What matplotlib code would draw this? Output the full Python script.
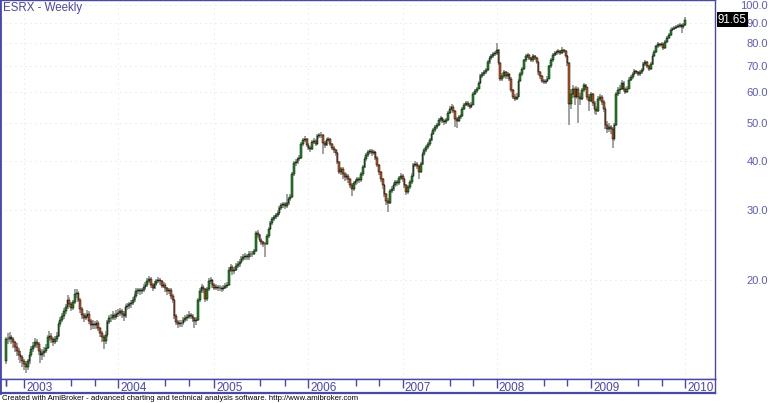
import matplotlib
matplotlib.use("Agg")
import matplotlib.pyplot as plt
import matplotlib.transforms as mtransforms
from matplotlib.ticker import NullLocator
import numpy as np
import pandas as pd

plt.rcParams['font.family'] = ['Liberation Sans', 'DejaVu Sans']

ticker = "ESRX - Weekly"
footer = ("Created with AmiBroker - advanced charting and technical analysis "
          "software. http://www.amibroker.com")
last_week = "2010-01-01"
first_open = 12.4

# weekly closes (Oct 2002 .. Dec 2009)
closes = [
    14.1, 14.1, 14.3, 14.1, 13.9, 13.5, 13.2, 12.9, 12.7, 12.4,
    12.2, 12.0, 12.4, 12.9, 13.3, 13.6, 13.9, 13.7, 13.2, 12.9,
    13.0, 13.2, 13.4, 14.3, 14.4, 14.1, 13.9, 14.1, 14.4, 15.4,
    15.8, 16.2, 16.6, 17.0, 17.8, 17.3, 16.9, 17.5, 18.4, 18.5,
    17.8, 16.8, 16.3, 16.0, 16.2, 16.4, 15.7, 15.3, 15.4, 15.3,
    15.5, 15.1, 14.6, 14.3, 14.0, 14.5, 15.6, 16.0, 16.0, 16.3,
    16.1, 16.4, 16.5, 16.6, 16.4, 16.2, 17.0, 17.1, 17.3, 17.4,
    17.8, 18.2, 18.7, 18.8, 18.7, 18.8, 19.2, 19.4, 19.9, 20.1,
    19.4, 19.1, 19.5, 19.9, 20.0, 19.8, 19.3, 19.4, 19.0, 18.7,
    18.8, 18.2, 17.8, 16.2, 15.6, 15.4, 15.5, 15.5, 15.8, 16.0,
    16.1, 16.3, 16.2, 16.0, 15.7, 15.8, 17.8, 18.7, 19.2, 18.9,
    17.9, 18.9, 19.9, 20.0, 19.4, 19.1, 19.2, 19.0, 19.1, 18.9,
    19.1, 19.3, 19.4, 21.2, 21.6, 21.0, 21.2, 21.7, 21.9, 22.2,
    22.6, 22.8, 23.0, 22.8, 23.3, 23.2, 23.3, 23.6, 26.3, 26.0,
    25.3, 24.9, 24.6, 24.7, 25.8, 26.9, 27.8, 28.5, 28.8, 29.2,
    29.5, 30.4, 30.9, 31.1, 30.8, 31.3, 32.0, 32.4, 37.1, 39.6,
    39.9, 40.5, 40.9, 44.3, 45.4, 45.6, 44.0, 43.3, 43.0, 44.8,
    45.1, 44.3, 46.4, 46.7, 46.7, 44.6, 44.0, 45.4, 45.6, 44.3,
    43.3, 42.7, 42.0, 39.9, 37.6, 38.2, 37.1, 36.4, 36.8, 36.0,
    34.8, 34.0, 35.2, 35.6, 36.0, 35.8, 37.1, 38.7, 40.5, 41.5,
    42.2, 42.4, 42.0, 42.2, 40.9, 39.1, 37.6, 36.0, 34.8, 33.0,
    31.8, 31.4, 33.6, 34.0, 34.8, 35.4, 35.2, 36.2, 36.8, 36.0,
    34.8, 33.4, 34.4, 35.4, 36.8, 39.1, 39.4, 38.9, 37.6, 39.4,
    41.7, 42.7, 43.5, 44.3, 45.4, 47.0, 48.1, 49.0, 49.5, 51.0,
    51.6, 50.8, 50.3, 51.0, 53.2, 54.5, 55.1, 53.8, 51.3, 50.8,
    51.9, 52.2, 54.5, 55.8, 56.4, 55.8, 55.1, 55.8, 59.5, 60.4,
    61.3, 63.5, 65.9, 66.7, 67.4, 68.2, 71.5, 73.2, 74.1, 75.0,
    75.4, 76.8, 71.1, 65.0, 65.9, 67.4, 65.9, 66.7, 65.0, 60.6,
    58.5, 57.8, 58.5, 64.2, 66.7, 68.6, 72.3, 74.1, 74.5, 73.2,
    72.3, 74.1, 73.2, 71.5, 67.4, 65.9, 64.2, 63.8, 64.2, 65.0,
    69.8, 72.3, 74.5, 75.4, 75.9, 76.3, 75.4, 76.8, 76.3, 74.1,
    71.1, 56.1, 59.5, 61.3, 58.5, 61.3, 58.5, 57.8, 60.6, 62.4,
    61.7, 58.5, 57.1, 59.2, 56.4, 54.5, 53.8, 57.8, 58.5, 56.8,
    54.5, 49.5, 48.4, 49.0, 48.4, 45.6, 49.5, 59.5, 60.6, 61.3,
    63.5, 61.3, 60.1, 61.3, 64.6, 65.5, 66.7, 67.8, 67.4, 66.7,
    67.4, 68.2, 70.7, 71.5, 70.0, 68.6, 70.7, 74.1, 75.9, 78.5,
    79.5, 79.1, 79.5, 77.7, 80.5, 82.4, 83.9, 86.4, 86.9, 87.4,
    87.9, 88.4, 89.0, 87.9, 89.0, 91.65,
]

highs = [
    14.3, 14.6, 14.7, 14.5, 14.3, 14.0, 13.8, 13.4, 13.2, 12.9,
    12.6, 12.4, 12.6, 13.1, 13.6, 13.9, 14.2, 14.1, 13.9, 13.4,
    13.3, 13.5, 13.7, 14.5, 14.8, 14.6, 14.3, 14.4, 14.7, 15.6,
    16.1, 16.5, 16.9, 17.3, 18.3, 18.1, 17.5, 17.8, 18.9, 18.9,
    18.7, 18.0, 17.0, 16.5, 16.5, 16.7, 16.6, 15.9, 15.8, 15.7,
    15.8, 15.7, 15.2, 14.8, 14.5, 14.8, 15.8, 16.3, 16.4, 16.6,
    16.5, 16.7, 16.8, 16.9, 16.8, 16.6, 17.3, 17.4, 17.6, 17.8,
    18.1, 18.5, 19.0, 19.1, 19.1, 19.1, 19.5, 19.7, 20.2, 20.4,
    20.3, 19.6, 19.8, 20.1, 20.3, 20.2, 20.0, 19.7, 19.6, 19.2,
    19.1, 19.0, 18.4, 17.9, 16.4, 15.8, 15.8, 15.8, 16.1, 16.3,
    16.4, 16.6, 16.5, 16.4, 16.1, 16.1, 18.0, 19.0, 19.5, 19.4,
    19.0, 19.2, 20.2, 20.3, 20.1, 19.6, 19.5, 19.4, 19.4, 19.3,
    19.4, 19.6, 19.7, 21.5, 21.9, 21.8, 21.5, 22.0, 22.3, 22.6,
    23.0, 23.2, 23.4, 23.3, 23.6, 23.6, 23.7, 24.0, 26.6, 26.7,
    26.2, 25.5, 25.1, 25.0, 26.1, 27.3, 28.2, 28.9, 29.3, 29.6,
    30.0, 30.8, 31.3, 31.6, 31.5, 33.0, 32.5, 33.0, 37.5, 40.0,
    40.5, 41.1, 41.6, 44.8, 46.0, 46.3, 45.9, 44.5, 43.8, 45.3,
    45.8, 45.5, 46.9, 47.3, 47.5, 47.0, 45.0, 45.9, 46.2, 45.9,
    44.6, 43.7, 43.1, 42.3, 40.2, 38.8, 38.6, 37.5, 37.4, 37.1,
    36.3, 35.2, 35.6, 36.1, 36.5, 36.4, 37.6, 39.2, 41.0, 42.1,
    42.8, 43.0, 42.9, 42.8, 42.5, 41.2, 39.4, 37.9, 36.3, 35.1,
    33.3, 32.3, 34.0, 34.6, 35.3, 35.9, 35.8, 36.7, 37.4, 37.2,
    36.3, 35.1, 34.9, 35.9, 37.3, 39.6, 40.0, 39.8, 39.2, 39.9,
    42.2, 43.2, 44.1, 44.9, 46.0, 47.6, 48.7, 49.6, 50.2, 51.6,
    52.3, 52.0, 51.2, 51.7, 53.8, 55.2, 56.0, 55.5, 54.1, 51.8,
    52.5, 52.8, 55.0, 56.4, 57.1, 56.9, 56.2, 56.5, 60.1, 61.1,
    62.0, 64.2, 66.6, 67.5, 68.3, 69.0, 72.3, 74.0, 75.0, 76.0,
    76.4, 80.0, 77.3, 71.5, 67.0, 68.3, 67.9, 67.6, 67.0, 65.4,
    61.0, 59.2, 59.6, 64.9, 67.5, 69.4, 73.0, 75.0, 75.5, 75.0,
    73.8, 74.9, 74.6, 73.6, 71.9, 67.9, 66.4, 64.8, 64.9, 65.8,
    70.5, 73.1, 75.3, 76.3, 76.9, 77.3, 76.9, 78.0, 77.5, 76.7,
    74.5, 71.6, 61.0, 62.5, 62.0, 62.2, 61.8, 59.6, 61.4, 63.2,
    63.0, 62.0, 59.5, 60.0, 59.6, 57.0, 55.4, 58.6, 59.5, 59.0,
    57.3, 55.0, 50.6, 50.0, 49.6, 49.0, 50.2, 60.2, 61.8, 62.5,
    64.5, 64.0, 61.9, 62.2, 65.4, 66.4, 67.6, 68.7, 68.5, 68.0,
    68.3, 69.1, 71.5, 72.4, 72.0, 70.5, 71.5, 74.9, 76.7, 79.3,
    80.4, 80.2, 80.4, 80.0, 81.3, 83.2, 84.8, 87.2, 87.8, 88.4,
    88.9, 89.5, 90.2, 89.6, 89.9, 93.0,
]

lows = [
    12.2, 13.7, 13.9, 13.7, 13.4, 13.1, 12.8, 12.5, 12.3, 12.0,
    11.8, 11.6, 11.8, 12.2, 12.7, 13.1, 13.4, 13.4, 12.9, 12.3,
    12.5, 12.7, 13.0, 13.3, 14.0, 13.8, 13.6, 13.7, 13.9, 14.3,
    15.2, 15.6, 15.9, 16.4, 16.8, 17.0, 16.6, 16.7, 17.3, 18.0,
    17.5, 16.5, 15.9, 15.6, 15.8, 16.0, 15.4, 14.9, 15.0, 15.0,
    15.0, 14.8, 14.3, 13.9, 13.3, 13.7, 14.3, 15.4, 15.6, 15.8,
    15.8, 15.9, 16.1, 16.2, 16.0, 15.7, 16.0, 16.7, 16.8, 16.9,
    17.2, 17.6, 18.0, 18.4, 18.3, 18.4, 18.6, 18.9, 19.2, 19.6,
    19.1, 18.7, 18.9, 19.3, 19.6, 19.4, 19.0, 19.0, 18.6, 18.3,
    18.4, 17.9, 17.4, 15.9, 15.3, 15.1, 15.2, 15.2, 15.3, 15.6,
    15.7, 15.9, 15.9, 15.6, 15.1, 15.3, 15.7, 17.6, 18.5, 18.5,
    17.6, 17.7, 18.7, 19.5, 19.1, 18.8, 18.8, 18.7, 18.7, 18.6,
    18.7, 18.9, 19.0, 19.3, 20.9, 20.6, 20.7, 21.0, 21.4, 21.6,
    22.0, 22.3, 22.5, 22.4, 22.5, 22.8, 22.9, 23.1, 23.5, 25.6,
    25.0, 24.5, 24.2, 22.8, 24.5, 25.6, 26.7, 27.5, 28.2, 28.5,
    28.9, 29.3, 30.1, 30.5, 30.3, 30.5, 30.9, 31.7, 32.2, 36.8,
    39.0, 39.4, 40.0, 40.6, 43.8, 44.8, 43.5, 42.7, 42.3, 42.7,
    44.3, 43.7, 44.0, 45.9, 46.0, 41.8, 43.3, 43.7, 44.9, 43.8,
    42.7, 42.0, 41.3, 39.4, 37.1, 37.0, 36.0, 35.6, 35.9, 35.3,
    34.2, 32.6, 33.7, 34.8, 35.1, 35.2, 35.5, 36.8, 38.4, 40.1,
    41.0, 41.7, 41.4, 41.5, 40.3, 38.6, 37.0, 35.4, 34.1, 32.4,
    31.0, 29.8, 31.1, 33.2, 33.6, 34.4, 34.6, 34.9, 35.8, 35.5,
    34.2, 32.9, 33.0, 34.1, 35.1, 36.6, 38.7, 38.3, 36.0, 37.3,
    39.1, 41.3, 42.3, 43.0, 43.9, 45.0, 46.6, 47.6, 48.5, 49.1,
    50.5, 50.1, 49.6, 49.9, 50.7, 52.8, 54.0, 53.1, 48.9, 48.6,
    50.3, 51.3, 51.9, 54.0, 55.3, 55.1, 54.3, 54.7, 55.5, 58.9,
    59.8, 61.0, 63.1, 65.2, 66.0, 66.8, 67.9, 70.9, 72.5, 73.4,
    74.2, 74.8, 70.2, 64.0, 64.2, 65.2, 65.0, 64.9, 64.0, 59.9,
    57.6, 57.0, 57.2, 58.2, 63.8, 66.0, 68.2, 71.6, 73.3, 72.4,
    71.4, 71.8, 72.4, 70.6, 66.5, 65.0, 63.4, 63.0, 63.1, 63.6,
    64.7, 69.3, 71.8, 74.0, 74.7, 75.1, 74.6, 74.9, 75.5, 73.3,
    69.8, 49.6, 54.5, 58.0, 55.5, 57.8, 50.2, 55.8, 57.2, 60.0,
    60.8, 57.2, 53.8, 56.5, 55.3, 52.9, 52.4, 53.4, 57.0, 55.5,
    53.5, 48.5, 47.3, 47.5, 47.0, 43.2, 45.0, 49.2, 58.7, 59.5,
    60.8, 60.5, 59.3, 59.6, 61.0, 64.0, 65.0, 66.2, 66.6, 65.8,
    66.1, 66.9, 67.9, 70.1, 69.2, 67.8, 68.2, 70.4, 73.6, 75.5,
    77.9, 78.2, 78.5, 76.9, 77.3, 80.0, 81.9, 83.5, 85.8, 86.2,
    86.8, 87.2, 87.4, 85.0, 87.1, 88.5,
]

price_ticks = [20.0, 30.0, 40.0, 50.0, 60.0, 70.0, 80.0, 90.0, 100.0]

n = len(closes)
dates = pd.date_range(end=last_week, periods=n, freq="W-FRI")
opens = [first_open] + closes[:-1]
idx = np.arange(n)

frame = "#4646b4"
label_col = "#5a5ac8"
up_col = "#1c9a1c"
dn_col = "#d0581c"

W, H = 770, 403
fig = plt.figure(figsize=(W / 100, H / 100), dpi=100)
ax = fig.add_axes([0, (H - 379) / H, 715 / W, 379 / H])
ax2 = fig.add_axes([0, (H - 393) / H, 715 / W, 14 / H], sharex=ax)

# pixel layout of the original: ~1.81 px per week
px = 1.811
x0 = 6
ax.set_xlim(-x0 / px, (715 - x0) / px)
ax.set_yscale("log")
ax.set_ylim(100 * 10 ** (-(379 - 5) / 393), 100 * 10 ** (5 / 393))

o = np.array(opens)
c = np.array(closes)
body_col = np.where(c >= o, up_col, dn_col)
ax.vlines(idx, lows, highs, color="#9a9a9a", lw=1.3, zorder=2)
ax.bar(idx, np.abs(c - o), bottom=np.minimum(o, c), width=1.0,
       color=body_col, edgecolor="black", linewidth=0.35, zorder=3)

# quarter / year ticks
months = dates.month
new_month = np.r_[True, months[1:] != months[:-1]]
year_idx = [i for i in range(n) if new_month[i] and months[i] == 1]
quarter_idx = [i for i in range(n) if new_month[i] and months[i] in (7, 10)]

ax.set_xticks(year_idx)
ax.tick_params(axis="x", bottom=False, labelbottom=False)
ax.yaxis.tick_right()
ax.set_yticks(price_ticks)
ax.set_yticklabels([f"{t:.1f}" for t in price_ticks])
ax.yaxis.set_minor_locator(NullLocator())
ax.tick_params(axis="y", length=0, pad=38, labelsize=8, labelcolor=label_col)
for lbl in ax.get_yticklabels():
    lbl.set_ha("right")
ax.grid(True, color="#d4d4d4", lw=0.6, ls=(0, (1, 5)), zorder=0)

for side, s in ax.spines.items():
    s.set_color(frame)
    s.set_linewidth(1.0)
ax.spines["left"].set_linewidth(2.0)

ax.text(3 / 715, 1 - 2 / 379, ticker, transform=ax.transAxes, ha="left",
        va="top", fontsize=8.3, color=frame)

ax.annotate(f"{closes[-1]:.2f}", xy=(1, closes[-1]),
            xycoords=("axes fraction", "data"), xytext=(3, 0),
            textcoords="offset pixels", ha="left", va="center",
            color="white", fontsize=8.3, annotation_clip=False, zorder=10,
            bbox=dict(boxstyle="square,pad=0.12", fc="black", ec="none"))

# date strip
ax2.set_ylim(0, 1)
ax2.tick_params(left=False, bottom=False, labelleft=False, labelbottom=False)
for side, s in ax2.spines.items():
    s.set_color(frame)
    s.set_linewidth(1.0)
ax2.spines["left"].set_linewidth(2.0)
ax2.spines["bottom"].set_linewidth(1.6)
ax2.vlines(quarter_idx + [0], 0.5, 1, color=frame, lw=1.0)
ax2.vlines(year_idx, 0.35, 1, color=frame, lw=1.0)
lab_tr = mtransforms.offset_copy(ax2.transData, fig=fig, x=2, y=0, units="dots")
for i in year_idx:
    ax2.text(i, 0.14, str(dates[i].year), transform=lab_tr, ha="left",
             va="baseline", fontsize=8.5, color=frame)

fig.text(2 / W, 1 / H, footer, ha="left", va="bottom", fontsize=5.6,
         color="black")

fig.savefig("out.png", dpi=100)
